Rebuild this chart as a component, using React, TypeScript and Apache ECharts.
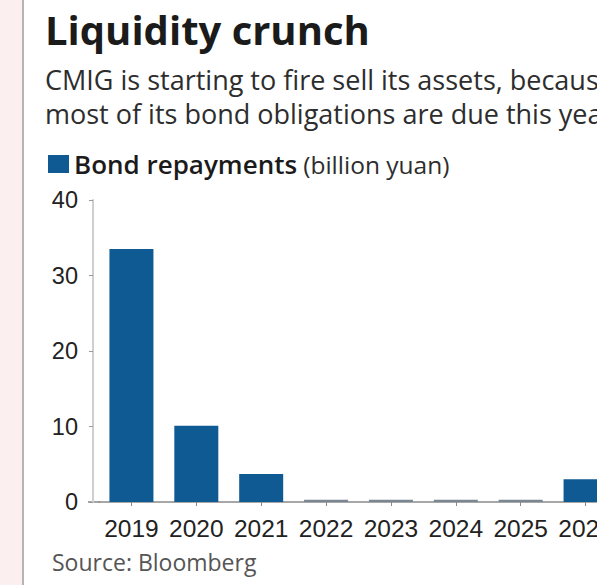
import React, { useEffect, useRef } from "react";
import * as echarts from "echarts";

const years = ["2019", "2020", "2021", "2022", "2023", "2024", "2025", "2026"];
const repayments = [33.5, 10.1, 3.7, 0.3, 0.3, 0.3, 0.3, 3.0];
const yTicks = [0, 10, 20, 30, 40];

const TITLE = "Liquidity crunch";
const SUB1 = "CMIG is starting to fire sell its assets, because";
const SUB2 = "most of its bond obligations are due this year";
const SERIES_NAME = "Bond repayments";
const UNIT = "(billion yuan)";
const SOURCE = "Source: Bloomberg";

const FONT = "'Open Sans', 'Noto Sans', sans-serif";
const NUM_FONT = "'Liberation Sans', Arial, sans-serif";
const BLUE = "#0f5a92";

export default function App() {
  const ref = useRef<HTMLDivElement>(null);
  useEffect(() => {
    if (!ref.current) return;
    const chart = echarts.init(ref.current, null, { renderer: "svg" });
    chart.setOption({
      animation: false,
      backgroundColor: "#ffffff",
      textStyle: { fontFamily: FONT },
      graphic: [
        { type: "rect", left: 0, top: 0, shape: { width: 22, height: 585 }, style: { fill: "#fbeff0" }, silent: true },
        { type: "rect", left: 22, top: 0, shape: { width: 2, height: 585 }, style: { fill: "#b9b3b3" }, silent: true },
        { type: "line", shape: { x1: 88, y1: 502, x2: 100, y2: 502 }, style: { stroke: "#8a8a8a", lineWidth: 1.5 }, silent: true },
        {
          type: "text", left: 45, top: 9,
          style: { text: TITLE, fontFamily: FONT, fontWeight: "bold", fontSize: 40, fill: "#1b1b1b" },
        },
        {
          type: "text", left: 45, top: 66,
          style: { text: SUB1, fontFamily: FONT, fontSize: 27, fill: "#2d2d2d" },
        },
        {
          type: "text", left: 45, top: 100,
          style: { text: SUB2, fontFamily: FONT, fontSize: 27, fill: "#2d2d2d" },
        },
        {
          type: "text", left: 52, top: 550,
          style: { text: SOURCE, fontFamily: FONT, fontSize: 23, fill: "#555555" },
        },
      ],
      legend: {
        left: 48, top: 151, padding: 0,
        itemWidth: 21, itemHeight: 18, itemGap: 6,
        icon: "rect",
        itemStyle: { color: BLUE },
        data: [SERIES_NAME],
        formatter: (n: string) => `{b|${n}} {u|${UNIT}}`,
        textStyle: {
          rich: {
            b: { fontFamily: FONT, fontSize: 26, fontWeight: 600, color: "#1b1b1b" },
            u: { fontFamily: FONT, fontSize: 24.5, color: "#2d2d2d", padding: [0, 0, 0, 3] },
          },
        },
      },
      grid: {
        left: 99, top: 200, width: 519, height: 302,
        containLabel: false,
        outerBoundsMode: "none",
      },
      xAxis: {
        type: "category",
        data: years,
        boundaryGap: true,
        axisLine: { show: true, lineStyle: { color: "#8a8a8a", width: 1.5 } },
        axisTick: { show: true, alignWithLabel: true, length: 4, lineStyle: { color: "#8a8a8a" } },
        axisLabel: { color: "#222222", fontSize: 24.5, fontFamily: NUM_FONT, margin: 14, interval: 0, hideOverlap: false },
      },
      yAxis: {
        type: "value",
        min: yTicks[0],
        max: yTicks[yTicks.length - 1],
        interval: yTicks[1] - yTicks[0],
        offset: 6,
        axisLine: { show: true, lineStyle: { color: "#cfcfcf", width: 2 } },
        axisTick: { show: true, length: 4, lineStyle: { color: "#9a9a9a" } },
        splitLine: { show: false },
        axisLabel: { color: "#222222", fontSize: 23.5, fontFamily: NUM_FONT, margin: 15, padding: [4, 0, 0, 0] },
      },
      series: [
        {
          name: SERIES_NAME,
          type: "bar",
          data: repayments,
          barWidth: 44,
          itemStyle: {
            color: (p: any) => (p.value < 1 ? "#7a8792" : BLUE),
          },
        },
      ],
    });
    return () => chart.dispose();
  }, []);
  return <div ref={ref} style={{ position: "fixed", left: 0, top: 0, width: 597, height: 585 }} />;
}
